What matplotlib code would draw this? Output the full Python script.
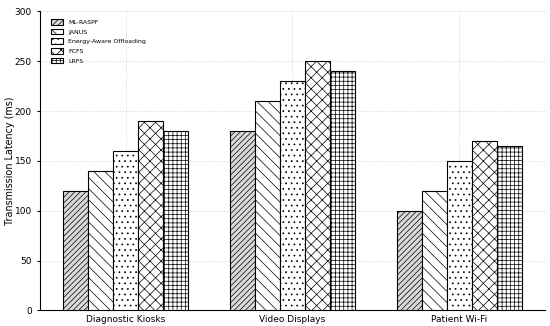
import matplotlib
matplotlib.use("Agg")
import matplotlib.pyplot as plt
import numpy as np

categories = ["Diagnostic Kiosks", "Video Displays", "Patient Wi-Fi"]
methods = ["ML-RASPF", "JANUS", "Energy-Aware Offloading", "FCFS", "LRFS"]
latency = {
    "ML-RASPF": [120, 180, 100],
    "JANUS": [140, 210, 120],
    "Energy-Aware Offloading": [160, 230, 150],
    "FCFS": [190, 250, 170],
    "LRFS": [180, 240, 165],
}
hatches = ["//////", "\\\\\\", "...", "xxx", "++++"]
fills = ["#d9d9d9", "white", "white", "white", "white"]

plt.rcParams["hatch.linewidth"] = 0.5

fig, ax = plt.subplots(figsize=(5.5, 3.26), dpi=100)
x = np.arange(len(categories))
w = 0.15
for i, m in enumerate(methods):
    ax.bar(x + (i - 2) * w, latency[m], w, label=m, color=fills[i],
           edgecolor="black", hatch=hatches[i], linewidth=0.8, zorder=3)

ax.set_xticks(x)
ax.set_xticklabels(categories, fontsize=6.5)
ax.tick_params(axis="x", length=0, pad=3)
ax.set_ylim(0, 300)
ax.tick_params(axis="y", labelsize=6.5, length=2.5)
ax.set_ylabel("Transmission Latency (ms)", fontsize=6.9, labelpad=0)
ax.grid(True, linestyle=":", color="#cccccc", linewidth=0.6, zorder=0)
ax.spines["top"].set_visible(False)
ax.spines["right"].set_visible(False)
ax.legend(loc="upper left", bbox_to_anchor=(0.006, 1), fontsize=4.5,
          frameon=False, handlelength=1.9, handleheight=1.0,
          labelspacing=0.6, handletextpad=0.9, borderaxespad=0.8)

fig.subplots_adjust(left=0.073, right=0.99, top=0.965, bottom=0.048)
fig.savefig("out.png", dpi=100)
